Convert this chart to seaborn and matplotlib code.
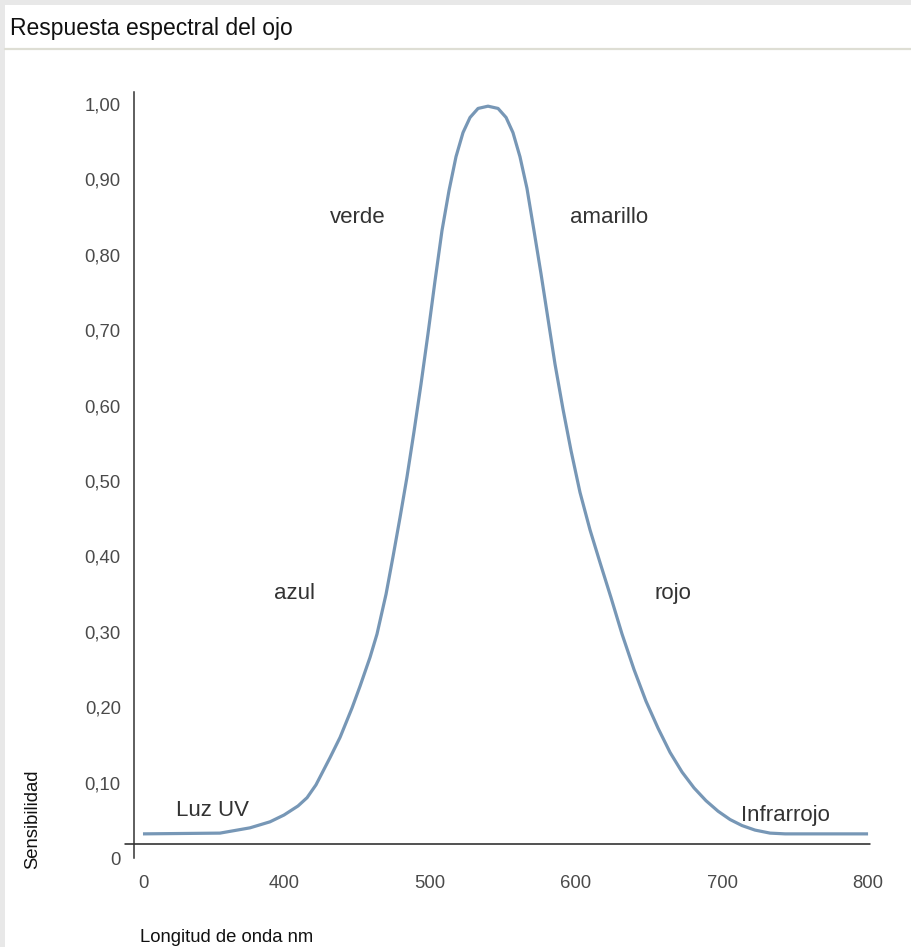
import numpy as np
import pandas as pd
import matplotlib
matplotlib.use("Agg")
import matplotlib.pyplot as plt
import matplotlib.transforms as mtransforms
from matplotlib.patches import Rectangle
from matplotlib.lines import Line2D
import seaborn as sns

# ---------------- data ----------------
wavelength = [0, 218.4, 303.5, 360.3, 400, 409.6, 415.8, 421.9, 431.5, 438.4,
              446.6, 452.1, 458.9, 463.7, 469.9, 474.7, 479.5, 484.2, 489.0,
              493.8, 498.6, 503.4, 508.2, 513.0, 517.8, 522.6, 527.4, 532.9,
              539.7,
              546.6, 552.1, 556.8, 561.6, 566.4, 571.2, 576.0, 580.8, 585.6,
              591.1, 596.6, 602.7, 609.6, 616.4, 624.0, 631.5, 639.7, 647.9,
              656.2, 664.4, 672.6, 680.8, 689.0, 697.3, 705.5, 713.7, 722.6,
              732.9, 743.2, 800]
sensitivity = [0.032, 0.033, 0.040, 0.048, 0.057, 0.069, 0.080, 0.097, 0.133,
               0.160, 0.199, 0.228, 0.266, 0.297, 0.350, 0.400, 0.452, 0.505,
               0.565, 0.628, 0.695, 0.765, 0.832, 0.885, 0.930, 0.962, 0.982,
               0.994, 0.997,
               0.994, 0.982, 0.962, 0.930, 0.888, 0.832, 0.775, 0.715, 0.655,
               0.595, 0.540, 0.485, 0.435, 0.392, 0.345, 0.297, 0.250, 0.208,
               0.172, 0.140, 0.114, 0.093, 0.076, 0.062, 0.051, 0.043, 0.037,
               0.033, 0.032, 0.032]

x_ticks = [0, 400, 500, 600, 700, 800]
x_tick_labels = ["0", "400", "500", "600", "700", "800"]
y_ticks = [0, 0.1, 0.2, 0.3, 0.4, 0.5, 0.6, 0.7, 0.8, 0.9, 1.0]
y_tick_labels = ["0", "0,10", "0,20", "0,30", "0,40", "0,50", "0,60", "0,70",
                 "0,80", "0,90", "1,00"]

region_names = ["verde", "amarillo", "azul", "rojo", "Luz UV", "Infrarrojo"]
region_x = [450.7, 622.6, 407.5, 666.4, 198.5, 743.2]
region_y = [0.850, 0.850, 0.351, 0.351, 0.063, 0.056]

title = "Respuesta espectral del ojo"
x_label = "Longitud de onda nm"
y_label = "Sensibilidad"

df = pd.DataFrame({"wavelength": wavelength, "sensitivity": sensitivity})

# ---------------- style ----------------
sns.set_style("white")
plt.rcParams["font.family"] = ["Liberation Sans", "DejaVu Sans"]

W, H = 912, 947
fig = plt.figure(figsize=(W / 100, H / 100), dpi=100)
fig.patch.set_facecolor("#e8e8e8")
fig.patches.append(Rectangle((5 / W, 0), 1, 1 - 5 / H, transform=fig.transFigure,
                             facecolor="white", edgecolor="none", zorder=-10))
fig.lines.append(Line2D([5 / W, 1], [1 - 49.5 / H, 1 - 49.5 / H],
                        transform=fig.transFigure, color="#deded4", lw=1.6,
                        zorder=-5))
fig.text(10 / W, 1 - 29 / H, title, fontsize=16.5, color="#111111",
         ha="left", va="center")

ax = fig.add_axes([134 / W, (H - 858) / H, 738 / W, 766 / H])
ax.set_facecolor("none")
ax.set_zorder(5)

K = 141 / 146


def fwd(w):
    w = np.asarray(w, dtype=float)
    return np.where(w < 400, w / 400 * K, K + (w - 400) / 100)


def inv(p):
    p = np.asarray(p, dtype=float)
    return np.where(p < K, p / K * 400, 400 + (p - K) * 100)


ax.set_xscale("function", functions=(fwd, inv))

sns.lineplot(data=df, x="wavelength", y="sensitivity", ax=ax, color="#7797b6",
             linewidth=2.3, estimator=None, sort=False)
for ln in ax.lines:
    ln.set_solid_joinstyle("round")
    ln.set_solid_capstyle("butt")

ax.set_xlim(-25.5, 802.7)
ax.set_ylim(0.0053, 1.0158)

ax.set_xticks(x_ticks)
ax.set_xticklabels(x_tick_labels)
ax.set_yticks(y_ticks)
ax.set_yticklabels(y_tick_labels)
ax.xaxis.set_minor_locator(matplotlib.ticker.NullLocator())
ax.tick_params(axis="y", length=0, pad=9.5, labelsize=13.3, labelcolor="#4a4a4a")
ax.tick_params(axis="x", length=0, pad=12, labelsize=13.3, labelcolor="#4a4a4a")
ax.set_xlabel("")
ax.set_ylabel("")

for s in ["top", "right", "bottom"]:
    ax.spines[s].set_visible(False)
ax.spines["left"].set_color("#333333")
ax.spines["left"].set_linewidth(1.1)

trans = mtransforms.blended_transform_factory(ax.transAxes, ax.transData)
ax.plot([-0.0122, 0.997], [0.0185, 0.0185], transform=trans, color="#222222",
        lw=1.1, clip_on=False)

for name, xx, yy in zip(region_names, region_x, region_y):
    ax.text(xx, yy, name, fontsize=16, color="#333333", ha="center", va="center")

fig.text(140 / W, 1 - 937 / H, x_label, fontsize=13.3, color="#111111",
         ha="left", va="center")
fig.text(33 / W, 1 - 819 / H, y_label, fontsize=13.3, color="#111111",
         ha="center", va="center", rotation=90)

fig.savefig("out.png", dpi=100, facecolor=fig.get_facecolor())
